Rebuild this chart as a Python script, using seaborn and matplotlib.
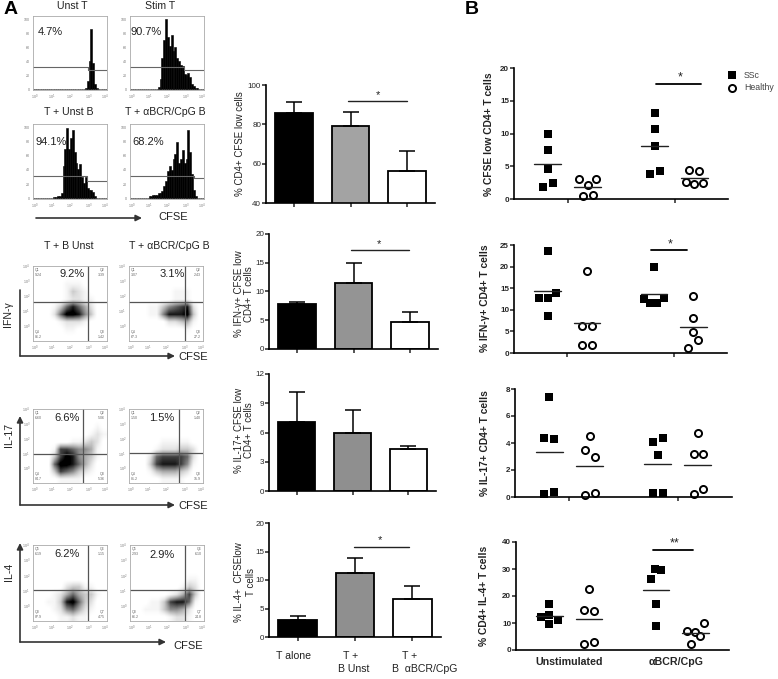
import matplotlib
matplotlib.use('Agg')
import matplotlib.pyplot as plt
from matplotlib.colors import PowerNorm
import seaborn as sns
import pandas as pd

sns.set_style("white")
plt.rcParams['font.family'] = ['Liberation Sans', 'DejaVu Sans']

W, H = 778, 679

# --- flow histograms: height per channel bin, 40 bins
hist_unst_t = [0, 0, 0, 0, 0, 0, 0, 0, 0, 0, 0, 0, 0, 0, 0, 0, 0, 0, 0, 0, 1, 1, 1, 1, 1, 1, 1, 1, 2, 12, 40, 87, 38, 8, 2, 1, 0, 0, 0, 0]
hist_stim_t = [0, 0, 0, 0, 0, 0, 0, 0, 0, 0, 0, 0, 0, 0, 1, 4, 15, 45, 70, 100, 75, 62, 78, 55, 60, 45, 40, 35, 33, 22, 20, 24, 18, 8, 5, 2, 2, 1, 1, 0]
hist_t_unst_b = [0, 0, 0, 0, 0, 0, 0, 0, 0, 0, 1, 2, 2, 3, 3, 8, 45, 70, 100, 70, 85, 97, 65, 50, 42, 48, 30, 22, 30, 15, 12, 12, 9, 3, 1, 1, 0, 0, 0, 0]
hist_t_stim_b = [0, 0, 0, 0, 0, 0, 0, 0, 0, 1, 3, 3, 4, 5, 5, 8, 8, 10, 18, 25, 38, 45, 40, 55, 62, 80, 50, 55, 68, 50, 55, 97, 65, 35, 12, 3, 1, 1, 0, 0]
hist_data = [hist_unst_t, hist_stim_t, hist_t_unst_b, hist_t_stim_b]
hist_titles = ['Unst T', 'Stim T', 'T + Unst B', 'T + αBCR/CpG B']
hist_pct = ['4.7%', '90.7%', '94.1%', '68.2%']

# --- flow dot plots: event density on a coarse grid, top row first
ifn_unst = [
    [0, 0, 0, 0, 0, 0, 0, 0, 0, 0, 0, 0],
    [0, 0, 0, 0, 0, 0, 0, 0, 0, 0, 0, 0],
    [0, 0, 0, 0, 0, 1, 1, 1, 0, 0, 0, 0],
    [0, 0, 0, 0, 0, 1, 3, 2, 1, 0, 0, 0],
    [0, 0, 0, 0, 0, 1, 2, 2, 1, 1, 0, 0],
    [0, 0, 0, 1, 3, 6, 8, 6, 4, 2, 0, 0],
    [0, 0, 0, 2, 6, 9, 9, 8, 5, 3, 0, 0],
    [0, 0, 0, 0, 1, 2, 2, 2, 1, 0, 0, 0],
    [0, 0, 0, 0, 0, 1, 1, 0, 0, 0, 0, 0],
    [0, 0, 0, 0, 0, 0, 0, 0, 0, 0, 0, 0]]
ifn_stim = [
    [0, 0, 0, 0, 0, 0, 0, 0, 0, 0, 0, 0],
    [0, 0, 0, 0, 0, 0, 0, 0, 0, 0, 0, 0],
    [0, 0, 0, 0, 0, 0, 0, 0, 0, 0, 0, 0],
    [0, 0, 0, 0, 0, 0, 0, 1, 1, 1, 0, 0],
    [0, 0, 0, 0, 0, 0, 0, 1, 1, 1, 0, 0],
    [0, 0, 0, 1, 1, 3, 5, 6, 7, 8, 2, 0],
    [0, 0, 0, 1, 1, 5, 8, 8, 8, 9, 3, 0],
    [0, 0, 0, 0, 0, 0, 2, 2, 3, 4, 1, 0],
    [0, 0, 0, 0, 0, 0, 0, 0, 0, 1, 0, 0],
    [0, 0, 0, 0, 0, 0, 0, 0, 0, 0, 0, 0]]
il17_unst = [
    [0, 0, 0, 0, 0, 0, 0, 0, 0, 0, 0, 0],
    [0, 0, 0, 0, 0, 0, 0, 0, 0, 0, 0, 0],
    [0, 0, 0, 0, 0, 0, 0, 0, 0, 0, 1, 0],
    [0, 0, 0, 0, 0, 0, 0, 0, 0, 1, 2, 1],
    [0, 0, 0, 0, 0, 0, 1, 1, 2, 3, 2, 0],
    [0, 0, 0, 1, 7, 7, 6, 5, 5, 4, 1, 0],
    [0, 0, 0, 3, 7, 9, 8, 5, 4, 3, 1, 0],
    [0, 0, 0, 6, 9, 9, 8, 6, 4, 2, 0, 0],
    [0, 0, 0, 3, 7, 6, 5, 3, 2, 1, 0, 0],
    [0, 0, 0, 0, 1, 1, 1, 1, 0, 0, 0, 0]]
il17_stim = [
    [0, 0, 0, 0, 0, 0, 0, 0, 0, 0, 0, 0],
    [0, 0, 0, 0, 0, 0, 0, 0, 0, 0, 0, 0],
    [0, 0, 0, 0, 0, 0, 0, 0, 0, 0, 0, 0],
    [0, 0, 0, 0, 0, 0, 0, 0, 0, 0, 0, 0],
    [0, 0, 0, 0, 0, 1, 1, 1, 1, 1, 0, 0],
    [0, 0, 0, 0, 1, 2, 2, 2, 3, 3, 2, 0],
    [0, 0, 0, 2, 6, 7, 7, 7, 7, 6, 2, 0],
    [0, 0, 0, 3, 7, 8, 8, 8, 7, 5, 1, 0],
    [0, 0, 0, 1, 3, 4, 4, 4, 3, 2, 0, 0],
    [0, 0, 0, 0, 0, 1, 1, 1, 1, 0, 0, 0]]
il4_unst = [
    [0, 0, 0, 0, 0, 0, 0, 0, 0, 0, 0, 0],
    [0, 0, 0, 0, 0, 0, 0, 0, 0, 0, 0, 0],
    [0, 0, 0, 0, 0, 0, 0, 0, 0, 0, 0, 0],
    [0, 0, 0, 0, 0, 0, 0, 0, 0, 0, 0, 0],
    [0, 0, 0, 0, 0, 0, 0, 0, 0, 0, 0, 0],
    [0, 0, 0, 0, 0, 2, 3, 3, 1, 1, 0, 0],
    [0, 0, 0, 1, 2, 4, 6, 4, 3, 3, 1, 0],
    [0, 0, 1, 1, 3, 8, 9, 6, 3, 2, 0, 0],
    [0, 0, 0, 1, 2, 5, 6, 4, 2, 1, 0, 0],
    [0, 0, 0, 0, 1, 1, 2, 1, 1, 0, 0, 0]]
il4_stim = [
    [0, 0, 0, 0, 0, 0, 0, 0, 0, 0, 0, 0],
    [0, 0, 0, 0, 0, 0, 0, 0, 0, 0, 0, 0],
    [0, 0, 0, 0, 0, 0, 0, 0, 0, 0, 0, 0],
    [0, 0, 0, 0, 0, 0, 0, 0, 0, 0, 0, 0],
    [0, 0, 0, 0, 0, 0, 0, 0, 0, 1, 1, 0],
    [0, 0, 0, 0, 0, 0, 0, 0, 1, 3, 2, 0],
    [0, 0, 0, 0, 0, 0, 1, 2, 4, 7, 3, 0],
    [0, 0, 0, 1, 1, 3, 7, 8, 8, 6, 1, 0],
    [0, 0, 1, 1, 1, 3, 5, 5, 4, 2, 0, 0],
    [0, 0, 0, 0, 0, 0, 1, 2, 2, 1, 0, 0]]
dot_data = [ifn_unst, ifn_stim, il17_unst, il17_stim, il4_unst, il4_stim]
dot_pct = ['9.2%', '3.1%', '6.6%', '1.5%', '6.2%', '2.9%']
dot_quads = [
    ['Q1\n9.24', 'Q2\n3.39', 'Q4\n86.2', 'Q3\n1.42'],
    ['Q1\n3.07', 'Q2\n2.43', 'Q4\n67.3', 'Q3\n27.2'],
    ['Q1\n6.60', 'Q2\n5.06', 'Q4\n84.7', 'Q3\n5.36'],
    ['Q1\n1.50', 'Q2\n1.40', 'Q4\n81.2', 'Q3\n15.9'],
    ['Q5\n6.19', 'Q6\n1.15', 'Q8\n87.9', 'Q7\n4.75'],
    ['Q5\n2.93', 'Q6\n6.10', 'Q8\n66.2', 'Q7\n24.8']]

# --- bar charts
bar_groups = ['T alone', 'T + B Unst', 'T + B aBCR/CpG']
cd4_mean = [86, 79, 56.5]
cd4_top = [91.5, 86.5, 66.5]
ifn_mean = [7.8, 11.5, 4.7]
ifn_top = [8.1, 15, 6.5]
il17_mean = [7.05, 5.95, 4.3]
il17_top = [10.2, 8.3, 4.65]
il4_mean = [3, 11.2, 6.6]
il4_top = [3.7, 13.9, 8.9]

# --- scatter panels, x is the group position plus the spread of the points
cfse_ssc_un_x = [-0.183, -0.183, -0.183, -0.230, -0.137]
cfse_ssc_un = [9.95, 7.5, 4.54, 1.84, 2.45]
cfse_h_un_x = [0.112, 0.270, 0.190, 0.146, 0.236]
cfse_h_un = [3.0, 3.1, 2.2, 0.46, 0.61]
cfse_ssc_st_x = [0.814, 0.814, 0.814, 0.767, 0.860]
cfse_ssc_st = [13.06, 10.66, 8.06, 3.83, 4.29]
cfse_h_st_x = [1.140, 1.233, 1.106, 1.186, 1.264]
cfse_h_st = [4.44, 4.23, 2.65, 2.35, 2.45]
cfse_means = [5.3, 1.9, 8.06, 3.27]

ifng_ssc_un_x = [-0.183, -0.106, -0.261, -0.183, -0.183]
ifng_ssc_un = [23.5, 14.0, 12.8, 12.7, 8.5]
ifng_h_un_x = [0.189, 0.143, 0.233, 0.143, 0.233]
ifng_h_un = [19.0, 6.3, 6.2, 1.8, 1.8]
ifng_ssc_st_x = [0.811, 0.717, 0.904, 0.780, 0.839]
ifng_ssc_st = [19.8, 12.5, 12.8, 11.5, 11.5]
ifng_h_st_x = [1.183, 1.183, 1.183, 1.227, 1.137]
ifng_h_st = [13.1, 8.05, 4.8, 2.9, 1.2]
ifng_means = [14.3, 7.0, 13.6, 6.0]

il17b_ssc_un_x = [-0.189, -0.232, -0.142, -0.232, -0.142]
il17b_ssc_un = [7.38, 4.37, 4.27, 0.22, 0.35]
il17b_h_un_x = [0.189, 0.142, 0.235, 0.142, 0.235]
il17b_h_un = [4.49, 3.48, 2.94, 0.12, 0.30]
il17b_ssc_st_x = [0.861, 0.771, 0.814, 0.771, 0.861]
il17b_ssc_st = [4.37, 4.05, 3.14, 0.32, 0.32]
il17b_h_st_x = [1.189, 1.146, 1.235, 1.146, 1.235]
il17b_h_st = [4.77, 3.16, 3.16, 0.22, 0.57]
il17b_means = [3.33, 2.27, 2.47, 2.40]

il4b_ssc_un_x = [-0.19, -0.19, -0.268, -0.109, -0.19]
il4b_ssc_un = [16.9, 13.1, 12.2, 11.0, 9.5]
il4b_h_un_x = [0.187, 0.14, 0.234, 0.14, 0.234]
il4b_h_un = [22.6, 14.9, 14.3, 2.3, 2.8]
il4b_ssc_st_x = [0.807, 0.857, 0.763, 0.81, 0.81]
il4b_ssc_st = [30.1, 29.8, 26.2, 16.9, 8.9]
il4b_h_st_x = [1.262, 1.106, 1.184, 1.231, 1.14]
il4b_h_st = [10.1, 6.9, 6.7, 5.1, 2.2]
il4b_means = [12.6, 11.5, 22.3, 6.2]


fig = plt.figure(figsize=(W / 100, H / 100), dpi=100, facecolor='white')


def px_axes(left, top, right, bottom):
    return fig.add_axes([left / W, 1 - bottom / H, (right - left) / W, (bottom - top) / H])


def txt(x, y, s, size=7.6, ha='center', va='center', **kw):
    kw.setdefault('color', '#222222')
    fig.text(x / W, 1 - y / H, s, fontsize=size, ha=ha, va=va, **kw)


def arrow(x0, y0, x1, y1):
    fig.add_artist(matplotlib.patches.FancyArrowPatch(
        (x0 / W, 1 - y0 / H), (x1 / W, 1 - y1 / H), transform=fig.transFigure,
        arrowstyle='-|>', mutation_scale=9, lw=1.2, color='#333333', shrinkA=0, shrinkB=0))


def flow_frame(ax, ymax):
    ax.set_yticks([ymax * f / 5 for f in range(6)])
    ax.set_xticks([0.03, 0.25, 0.5, 0.75, 0.97])
    ax.set_xticklabels(['10$^0$', '10$^1$', '10$^2$', '10$^3$', '10$^4$'])
    ax.tick_params(length=1.2, width=0.4, color='#888888', labelsize=2.6, labelcolor='#777777', pad=1)
    for s in ax.spines.values():
        s.set_linewidth(0.6)
        s.set_color('#aaaaaa')


# histograms
hist_boxes = [(33, 16, 107, 90), (130, 16, 204, 90), (33, 124, 107, 199), (130, 124, 204, 199)]
hist_gates = [(0.74, 32, 27), (0.73, 32, 27), (0.73, 32, 25), (0.87, 32, 28)]
for box, vals, gate in zip(hist_boxes, hist_data, hist_gates):
    ax = px_axes(*box)
    df = pd.DataFrame({'chan': [(i + 0.5) / 40 for i in range(40)], 'h': vals})
    sns.histplot(data=df, x='chan', weights='h', bins=40, binrange=(0, 1), color='black',
                 edgecolor='black', linewidth=0.4, alpha=1, ax=ax)
    ax.set_xlim(0, 1)
    ax.set_ylim(-1, 105)
    ax.set_xlabel('')
    ax.set_ylabel('')
    flow_frame(ax, 100)
    ax.set_yticklabels(['0', '20', '40', '60', '80', '100'])
    ax.plot([0, gate[0]], [gate[1], gate[1]], color='#666666', lw=0.8)
    ax.plot([gate[0], gate[0]], [gate[1], gate[2]], color='#666666', lw=0.8)
    ax.plot([gate[0], 1], [gate[2], gate[2]], color='#666666', lw=0.8)

for x, y, s in zip([72, 160, 69, 165], [6, 6, 112, 112], hist_titles):
    txt(x, y, s)
for x, y, s in zip([50, 146, 51, 148], [32, 32, 142, 142], hist_pct):
    txt(x, y, s, size=8)
arrow(36, 218, 142, 218)
txt(173, 217, 'CFSE', size=8)

# dot plots
dot_boxes = [(33, 266, 107, 341), (129, 266, 203, 341), (33, 409, 107, 483),
             (129, 409, 203, 483), (33, 545, 107, 621), (130, 545, 204, 621)]
dot_gates = [(88, 302), (185, 302), (83, 454), (179, 453), (88, 590), (185, 590)]
dot_pct_pos = [(72, 274), (172, 274), (67, 418), (162, 418), (67, 554), (162, 555)]
for box, grid, gate, quads in zip(dot_boxes, dot_data, dot_gates, dot_quads):
    ax = px_axes(*box)
    ax.imshow(grid, cmap='gray_r', norm=PowerNorm(gamma=1.5, vmin=0, vmax=8.5), aspect='auto',
              extent=(0, 1, 0, 1), interpolation='bilinear')
    flow_frame(ax, 1)
    ax.set_yticklabels(['', '10$^0$', '10$^1$', '10$^2$', '10$^3$', '10$^4$'])
    gx = (gate[0] - box[0]) / (box[2] - box[0])
    gy = 1 - (gate[1] - box[1]) / (box[3] - box[1])
    ax.axvline(gx, color='#555555', lw=0.9)
    ax.axhline(gy, color='#555555', lw=0.9)
    for (qx, qy, ha, va), q in zip([(0.03, 0.97, 'left', 'top'), (0.97, 0.97, 'right', 'top'),
                                    (0.03, 0.03, 'left', 'bottom'), (0.97, 0.03, 'right', 'bottom')], quads):
        ax.text(qx, qy, q, transform=ax.transAxes, fontsize=2.6, color='#666666', ha=ha, va=va, linespacing=1.1)
for (x, y), s in zip(dot_pct_pos, dot_pct):
    txt(x, y, s, size=8)
txt(69, 246, 'T + B Unst')
txt(169, 246, 'T + αBCR/CpG B')

arrow(20, 356, 175, 356)
fig.add_artist(plt.Line2D([20 / W, 20 / W], [1 - 290 / H, 1 - 356 / H], color='#333333', lw=1.2))
txt(8, 314, 'IFN-γ', rotation=90)
txt(178, 357, 'CFSE', size=8, ha='left')
arrow(20, 505, 175, 505)
arrow(20, 505, 20, 416)
txt(9, 435, 'IL-17', rotation=90)
txt(178, 506, 'CFSE', size=8, ha='left')
arrow(20, 642, 166, 642)
arrow(20, 642, 20, 543)
txt(9, 572, 'IL-4', rotation=90)
txt(173, 646, 'CFSE', size=8, ha='left')

txt(4, 9, 'A', size=14, ha='left', fontweight='bold', color='black')
txt(465, 9, 'B', size=14, ha='left', fontweight='bold', color='black')


# bar charts
def bars(box, means, tops, ylim, yticks, fill):
    ax = px_axes(*box)
    df = pd.DataFrame({'group': bar_groups, 'mean': means})
    sns.barplot(data=df, x='group', y='mean', hue='group', palette=['black', fill, 'white'],
                edgecolor='black', linewidth=1.3, width=0.67, legend=False, errorbar=None, ax=ax)
    for i, (m, t) in enumerate(zip(means, tops)):
        ax.errorbar(i, m, yerr=[[0], [t - m]], color='black', capsize=5.5, capthick=1.1, elinewidth=1.1)
    ax.set_xlim(-0.5, 2.5)
    ax.set_ylim(*ylim)
    ax.set_yticks(yticks)
    ax.set_xticks([0, 1, 2])
    ax.set_xticklabels([])
    ax.set_xlabel('')
    ax.set_ylabel('')
    ax.tick_params(left=True, bottom=True, length=3, width=1.1, labelsize=5.8, pad=0.5)
    sns.despine(ax=ax)
    for s in ['left', 'bottom']:
        ax.spines[s].set_linewidth(1.2)
        ax.spines[s].set_color('black')
    return ax


ax = bars((266, 85, 435, 203), cd4_mean, cd4_top, (40, 100), [40, 60, 80, 100], '#a3a3a3')
ax.plot([0.96, 2.0], [91.9, 91.9], color='#222222', lw=1)
ax = bars((269, 234, 438, 349), ifn_mean, ifn_top, (0, 20), [0, 5, 10, 15, 20], '#949494')
ax.plot([0.96, 1.98], [17.2, 17.2], color='#222222', lw=1)
ax = bars((269, 374, 436, 491), il17_mean, il17_top, (0, 12), [0, 3, 6, 9, 12], '#8f8f8f')
ax = bars((269, 523, 441, 637), il4_mean, il4_top, (0, 20), [0, 5, 10, 15, 20], '#8f8f8f')
ax.plot([0.98, 1.95], [15.8, 15.8], color='#222222', lw=1)
for x, y in [(378, 95), (379, 244), (380, 540)]:
    txt(x, y, '*', size=8)

txt(240, 144, '% CD4+ CFSE low cells', size=7, rotation=90)
txt(244, 294, '% IFN-γ+ CFSE low\nCD4+ T cells', size=7, rotation=90, linespacing=1.1)
txt(244, 430, '% IL-17+ CFSE low\nCD4+ T cells', size=7, rotation=90, linespacing=1.1)
txt(245, 582, '% IL-4+  CFSElow\nT cells', size=7, rotation=90, linespacing=1.3)
txt(293, 656, 'T alone')
txt(351, 656, 'T +')
txt(354, 669, 'B Unst')
txt(410, 656, 'T +')
txt(425, 669, 'B  αBCR/CpG')


# scatter panels
def dots(box, groups, means, ylim, yticks, label_y, ylabel, label_x=485):
    ax = px_axes(*box)
    for i, (gx, gy) in enumerate(groups):
        if i % 2 == 0:
            sns.scatterplot(x=gx, y=gy, marker='s', color='black', s=26, linewidth=0, clip_on=False, ax=ax)
        else:
            sns.scatterplot(x=gx, y=gy, marker='o', facecolor='white', edgecolor='black', s=26,
                            linewidth=1.4, clip_on=False, ax=ax)
    for c, m in zip([-0.186, 0.186, 0.814, 1.186], means):
        ax.plot([c - 0.125, c + 0.125], [m, m], color='#222222', lw=1, zorder=3)
    ax.set_xlim(-0.5, 1.5)
    ax.set_ylim(*ylim)
    ax.set_yticks(yticks)
    ax.set_xticks([0, 1])
    ax.set_xticklabels([])
    ax.tick_params(left=True, bottom=True, length=3, width=1.1, labelsize=5.8, pad=0.5)
    for t in ax.get_yticklabels():
        t.set_fontweight('bold')
    sns.despine(ax=ax)
    for s in ['left', 'bottom']:
        ax.spines[s].set_linewidth(1.2)
        ax.spines[s].set_color('black')
    txt(label_x, label_y, ylabel, size=7.4, rotation=90, fontweight='bold')
    return ax


ax = dots((514, 68, 728, 199),
          [(cfse_ssc_un_x, cfse_ssc_un), (cfse_h_un_x, cfse_h_un), (cfse_ssc_st_x, cfse_ssc_st), (cfse_h_st_x, cfse_h_st)],
          cfse_means, (0, 20), [0, 5, 10, 15, 20], 134, '% CFSE low CD4+ T cells', 489)
ax.plot([0.829, 1.252], [17.5, 17.5], color='black', lw=1.3)
txt(680, 77, '*', size=9)

ax = dots((514, 245, 727, 353),
          [(ifng_ssc_un_x, ifng_ssc_un), (ifng_h_un_x, ifng_h_un), (ifng_ssc_st_x, ifng_ssc_st), (ifng_h_st_x, ifng_h_st)],
          ifng_means, (0, 25), [0, 5, 10, 15, 20, 25], 298, '% IFN-γ+ CD4+ T cells')
ax.plot([0.783, 1.124], [23.8, 23.8], color='black', lw=1.3)
txt(670, 244, '*', size=9)

ax = dots((515, 389, 732, 497),
          [(il17b_ssc_un_x, il17b_ssc_un), (il17b_h_un_x, il17b_h_un), (il17b_ssc_st_x, il17b_ssc_st), (il17b_h_st_x, il17b_h_st)],
          il17b_means, (0, 8), [0, 2, 4, 6, 8], 443, '% IL-17+ CD4+ T cells')

ax = dots((516, 542, 729, 650),
          [(il4b_ssc_un_x, il4b_ssc_un), (il4b_h_un_x, il4b_h_un), (il4b_ssc_st_x, il4b_ssc_st), (il4b_h_st_x, il4b_h_st)],
          il4b_means, (0, 40), [0, 10, 20, 30, 40], 596, '% CD4+ IL-4+ T cells', 484)
ax.plot([0.785, 1.162], [37.2, 37.2], color='black', lw=1.3)
txt(675, 543, '**', size=9)
ax.set_xticklabels(['Unstimulated', 'αBCR/CpG'], fontsize=7.7, fontweight='bold')
ax.tick_params(axis='x', length=0, pad=5)

# legend of panel B
legend_ax = px_axes(725, 68, 775, 95)
legend_ax.axis('off')
legend_names = ['SSc', 'Healthy']
sns.scatterplot(x=[732], y=[75], marker='s', color='black', s=26, linewidth=0, ax=legend_ax)
sns.scatterplot(x=[732], y=[88], marker='o', facecolor='white', edgecolor='black', s=26, linewidth=1.4, ax=legend_ax)
legend_ax.set_xlim(725, 775)
legend_ax.set_ylim(95, 68)
txt(744, 75, legend_names[0], size=6.3, ha='left', color='#444444')
txt(744, 88, legend_names[1], size=6.3, ha='left', color='#444444')

fig.savefig('out.png', dpi=100)
